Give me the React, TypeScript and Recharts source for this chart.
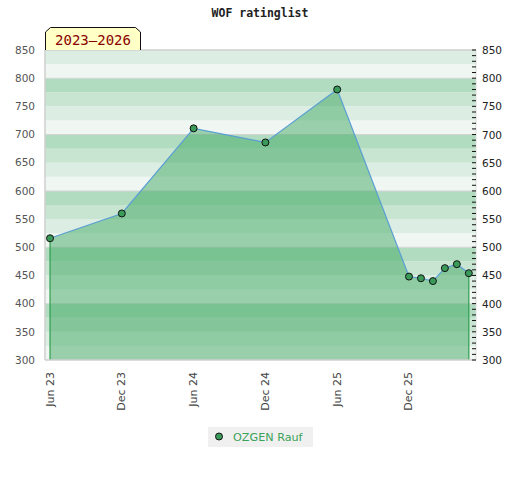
import React from 'react';
import {
  ComposedChart, Area, Line, XAxis, YAxis, ReferenceArea, ReferenceLine,
} from 'recharts';

// month index since Jun 2023
const months = [0, 6, 12, 18, 24, 30, 31, 32, 33, 34, 35];
const ratings = [516, 560, 711, 686, 780, 448, 445, 440, 463, 470, 454];
const xTicks = [0, 6, 12, 18, 24, 30];
const xTickLabels = ['Jun 23', 'Dec 23', 'Jun 24', 'Dec 24', 'Jun 25', 'Dec 25'];
const yTicks = [300, 350, 400, 450, 500, 550, 600, 650, 700, 750, 800, 850];
const gridHundreds = [400, 500, 600, 700, 800];
const seriesName = 'OZGEN Rauf';
const title = 'WOF ratinglist';
const badge = '2023–2026';

const Y_MIN = 300;
const Y_MAX = 850;

const data = months.map((m, i) => ({ m, rating: ratings[i] }));

const bandColors = ['#f0f7f2', '#dcede3', '#c8e5d2', '#b2dcc0'];
const bands: { y1: number; y2: number; fill: string }[] = [];
for (let v = Y_MIN; v < Y_MAX; v += 25) {
  bands.push({ y1: v, y2: v + 25, fill: bandColors[((v % 100) / 25) | 0] });
}
const minorTicks: number[] = [];
for (let v = Y_MIN; v <= Y_MAX; v += 10) minorTicks.push(v);

const FONT = '"DejaVu Sans", Verdana, sans-serif';
// half a pixel expressed in rating units (plot is 310px tall for 550 points)
const HALF_PX = (Y_MAX - Y_MIN) / 310 / 2;

const XTick = (props: any) => {
  const { x, y, payload } = props;
  const idx = xTicks.indexOf(payload.value);
  return (
    <text
      x={x}
      y={y}
      transform={`rotate(-90, ${x}, ${y})`}
      textAnchor="end"
      dominantBaseline="central"
      fontSize={11}
      fontFamily={FONT}
      fill="#444"
    >
      {idx >= 0 ? xTickLabels[idx] : ''}
    </text>
  );
};

const RightTick = (props: any) => {
  const { x, y, payload } = props;
  const v = payload.value;
  const major = yTicks.includes(v);
  return (
    <g>
      <line x1={x - 4} x2={x} y1={y} y2={y} stroke="#111" strokeWidth={1} />
      {major && (
        <text x={x + 6} y={y} dominantBaseline="central" fontSize={10.5} fontFamily={FONT} fill="#222">
          {v}
        </text>
      )}
    </g>
  );
};

export default function App() {
  return (
    <div style={{ position: 'absolute', left: 0, top: 0, width: 520, height: 480, background: '#fff' }}>
      <div
        style={{
          position: 'absolute', left: 0, top: 6, width: 520, textAlign: 'center',
          fontFamily: '"DejaVu Sans Mono", monospace', fontWeight: 'bold', fontSize: 11.5, color: '#222',
        }}
      >
        {title}
      </div>
      <ComposedChart
        width={520}
        height={480}
        data={data}
        margin={{ top: 50, right: 0, bottom: 0, left: 0 }}
      >
        {bands.map((b) => (
          <ReferenceArea
            key={b.y1}
            yAxisId="l"
            y1={b.y1}
            y2={b.y2}
            fill={b.fill}
            fillOpacity={1}
            stroke="none"
          />
        ))}
        {gridHundreds.map((v) => (
          <ReferenceArea
            key={'g' + v}
            yAxisId="l"
            y1={v - HALF_PX}
            y2={v + HALF_PX}
            fill="#d4d4d4"
            fillOpacity={1}
            stroke="none"
          />
        ))}
        <ReferenceLine yAxisId="l" y={Y_MAX} stroke="#cfcfcf" strokeWidth={1.5} />
        <XAxis
          dataKey="m"
          type="number"
          domain={[-0.42, 35.6]}
          ticks={xTicks}
          interval={0}
          height={120}
          tickLine={false}
          tickSize={0}
          tickMargin={12}
          axisLine={{ stroke: '#cfcfcf', strokeWidth: 1.5 }}
          tick={<XTick />}
        />
        <YAxis
          yAxisId="l"
          orientation="left"
          domain={[Y_MIN, Y_MAX]}
          allowDataOverflow
          ticks={yTicks}
          interval={0}
          width={45}
          tickLine={false}
          tickSize={0}
          tickMargin={10}
          axisLine={{ stroke: '#cfcfcf', strokeWidth: 1.5 }}
          tick={{ fontSize: 10.5, fontFamily: FONT, fill: '#555' }}
        />
        <YAxis
          yAxisId="r"
          orientation="right"
          domain={[Y_MIN, Y_MAX]}
          allowDataOverflow
          ticks={minorTicks}
          interval={0}
          width={44}
          tickLine={false}
          tickSize={0}
          tickMargin={0}
          axisLine={{ stroke: '#dcdcdc', strokeWidth: 1 }}
          tick={<RightTick />}
        />
        <Area
          yAxisId="l"
          type="linear"
          dataKey="rating"
          fill="rgb(58,166,94)"
          fillOpacity={0.48}
          stroke="none"
          isAnimationActive={false}
          dot={false}
          activeDot={false}
        />
        <ReferenceLine
          yAxisId="l"
          segment={[{ x: months[0], y: Y_MIN }, { x: months[0], y: ratings[0] }]}
          stroke="#2e9e4e"
          strokeWidth={1.2}
        />
        <ReferenceLine
          yAxisId="l"
          segment={[
            { x: months[months.length - 1], y: Y_MIN },
            { x: months[months.length - 1], y: ratings[ratings.length - 1] },
          ]}
          stroke="#2e9e4e"
          strokeWidth={1.2}
        />
        <Line
          yAxisId="r"
          type="linear"
          dataKey="rating"
          stroke="none"
          strokeWidth={0}
          isAnimationActive={false}
          dot={false}
          activeDot={false}
          legendType="none"
        />
        <Line
          yAxisId="l"
          type="linear"
          dataKey="rating"
          stroke="#5a9fd4"
          strokeWidth={1.2}
          isAnimationActive={false}
          dot={{ r: 3.5, fill: '#3a9a5a', stroke: '#111', strokeWidth: 1 }}
          activeDot={false}
        />
      </ComposedChart>
      <svg style={{ position: 'absolute', left: 0, top: 0 }} width={520} height={60}>
        <path
          d="M45.5,50 L45.5,32 L50.5,27.5 L135.5,27.5 L140.5,32 L140.5,50"
          fill="#ffffc6"
          stroke="#111"
          strokeWidth={1}
        />
        <text
          x={93}
          y={45}
          textAnchor="middle"
          fontSize={14}
          fontFamily='"DejaVu Sans Mono", monospace'
          fill="#8b0000"
        >
          {badge}
        </text>
      </svg>
      <div
        style={{
          position: 'absolute', left: 208, top: 427, width: 105, height: 20, background: '#f0f0f0',
        }}
      >
        <svg style={{ position: 'absolute', left: 0, top: 0 }} width={105} height={20}>
          <circle cx={11} cy={9.5} r={3.5} fill="#3a9a5a" stroke="#111" strokeWidth={1} />
          <text x={25} y={10} dominantBaseline="central" fontSize={11.2} fontFamily={FONT} fill="#3aa35a">
            {seriesName}
          </text>
        </svg>
      </div>
    </div>
  );
}
